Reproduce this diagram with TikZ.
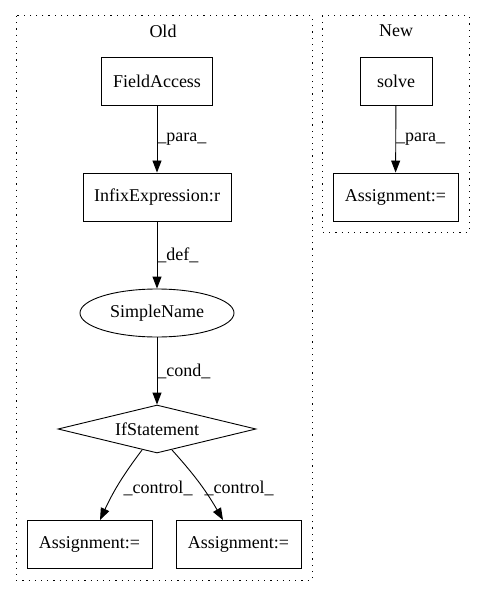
\documentclass[tikz,border=0pt]{standalone}
\usepackage{fontspec}
\setmainfont{Liberation Serif}
\usetikzlibrary{arrows.meta,shapes.geometric}
\tikzset{
	box/.style={draw, rectangle, minimum height=48pt, inner sep=0pt},
	oval/.style={draw, ellipse, minimum height=48pt, minimum width=154pt, inner sep=0pt},
	cond/.style={draw, diamond, aspect=4.1, minimum width=198pt, minimum height=48pt, inner sep=0pt},
	arr/.style={-{Triangle[length=12pt,width=9pt]}},
	cluster/.style={dash pattern=on 1.2pt off 5pt, line width=1pt},
	lbl/.style={anchor=west, inner sep=0pt}
}
\begin{document}
\begin{tikzpicture}[x=1pt, y=-1pt, line width=0.9pt, font=\fontsize{18pt}{20pt}\selectfont]
		\useasboundingbox (0,0) rectangle (485,596);
		% clusters
		\draw[cluster] (16,16) rectangle (312,580);
		\draw[cluster] (322,16) rectangle (469,232);
		\node (oldlbl) at (163,31) {Old};
		\node (newlbl) at (396,31) {New};
		% old
		\node[box, minimum width=111pt] (fa) at (157,81) {FieldAccess};
		\node[box, minimum width=148pt] (infix) at (157,197) {InfixExpression:r};
		\node[oval] (sname) at (157,313) {SimpleName};
		\node[cond] (ifst) at (157,429) {IfStatement};
		\node[box, minimum width=125pt] (asl) at (89.5,544.5) {Assignment:=};
		\node[box, minimum width=125pt] (asr) at (238.5,544.5) {Assignment:=};
		\draw[arr] (fa) -- (infix) node[lbl, pos=0.5] {\_para\_};
		\draw[arr] (infix) -- (sname) node[lbl, pos=0.5] {\_def\_};
		\draw[arr] (sname) -- (ifst) node[lbl, pos=0.5] {\_cond\_};
		\draw[arr] (142,450) to[bend right=6] (asl.north -| 100,0);
		\draw[arr] (172,450) to[bend left=6] (asr.north -| 223,0);
		\node (ctl) at (158,488) {\_control\_};
		\node (ctr) at (239,488) {\_control\_};
		% new
		\node[box, minimum width=72pt] (solve) at (396,81) {solve};
		\node[box, minimum width=125pt] (asn) at (395.5,197) {Assignment:=};
		\draw[arr] (solve) -- (asn) node[lbl, pos=0.5] {\_para\_};
	\end{tikzpicture}
\end{document}
